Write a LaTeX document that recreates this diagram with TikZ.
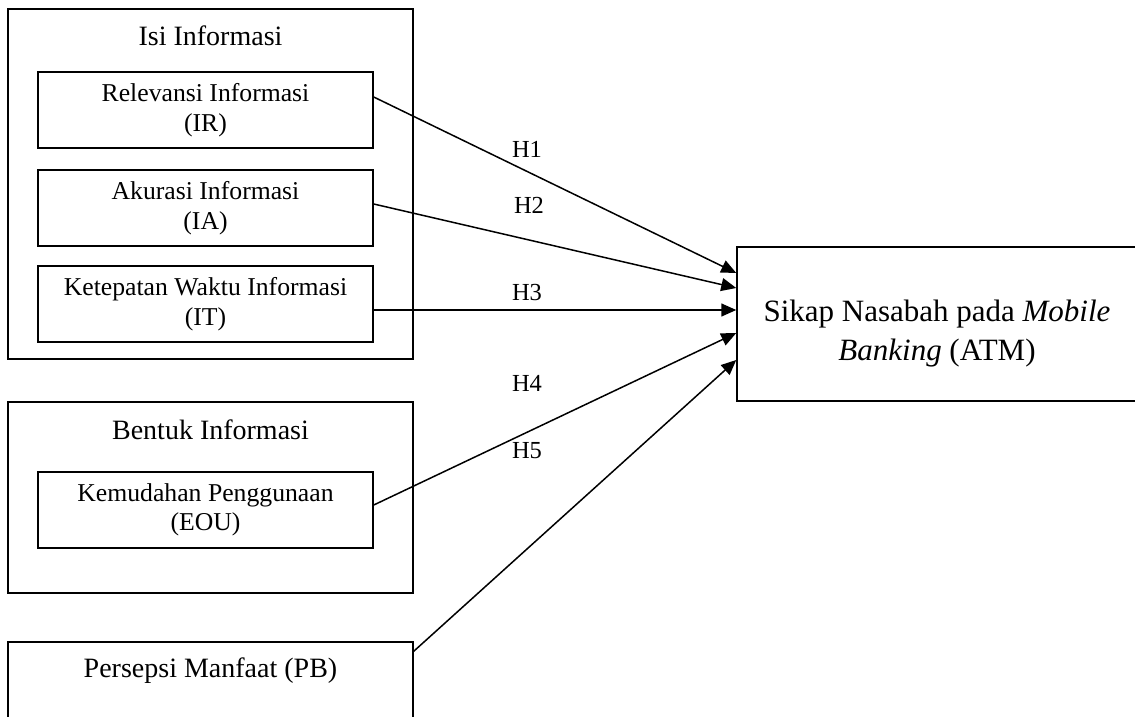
\documentclass[tikz,border=0pt]{standalone}
\usepackage{fontspec}
\setmainfont{Liberation Serif}
\usetikzlibrary{arrows.meta}
\begin{document}
\begin{tikzpicture}[x=1pt,y=-1pt,
  box/.style={draw, line width=1.5pt, rectangle, inner sep=0pt},
  inbox/.style={box, minimum width=335pt, minimum height=76pt, align=center, font=\fontsize{25.7}{29.5}\selectfont},
  ttl/.style={font=\fontsize{28}{32}\selectfont, inner sep=0pt},
  hlab/.style={font=\fontsize{24.5}{28}\selectfont, inner sep=0pt},
  conn/.style={line width=1.5pt, -{Triangle[length=15pt,width=13pt]}}]
\useasboundingbox (0,0) rectangle (1135,717);
% Isi Informasi group
\node[box, minimum width=405pt, minimum height=350pt] (isi) at (210.5,184) {};
\node[ttl] (isiT) at (210.5,36) {Isi Informasi};
\node[inbox] (ir) at (205.5,110) {Relevansi Informasi\\(IR)};
\node[inbox] (ia) at (205.5,208) {Akurasi Informasi\\(IA)};
\node[inbox] (it) at (205.5,304) {Ketepatan Waktu Informasi\\(IT)};
% Bentuk Informasi group
\node[box, minimum width=405pt, minimum height=191pt] (bentuk) at (210.5,497.5) {};
\node[ttl] (bentukT) at (210.5,430) {Bentuk Informasi};
\node[inbox] (eou) at (205.5,510) {Kemudahan Penggunaan\\(EOU)};
% Persepsi Manfaat
\node[box, minimum width=405pt, minimum height=98pt] (pb) at (210.5,691) {};
\node[ttl, anchor=base] (pbT) at (210.5,677) {Persepsi Manfaat (PB)};
% Target
\node[box, minimum width=410pt, minimum height=154pt] (atm) at (942,324) {};
\node[align=center, inner sep=0pt, font=\fontsize{31}{39}\selectfont] (atmT) at (937,334) {Sikap Nasabah pada \textit{Mobile}\\\textit{Banking} (ATM)};
% Connectors
\draw[conn] ([yshift=13pt]ir.east) -- ([yshift=51pt]atm.west);
\draw[conn] ([yshift=4pt]ia.east) -- ([yshift=36pt]atm.west);
\draw[conn] ([yshift=-6pt]it.east) -- ([yshift=14pt]atm.west);
\draw[conn] ([yshift=5pt]eou.east) -- ([yshift=-9pt]atm.west);
\draw[conn] ([yshift=-10pt]pb.north east) -- ([yshift=-36pt]atm.west);
% Labels
\node[hlab] (h1) at (527,149) {H1};
\node[hlab] (h2) at (529,205) {H2};
\node[hlab] (h3) at (527,293) {H3};
\node[hlab] (h4) at (527,383) {H4};
\node[hlab] (h5) at (527,451) {H5};
\end{tikzpicture}
\end{document}
